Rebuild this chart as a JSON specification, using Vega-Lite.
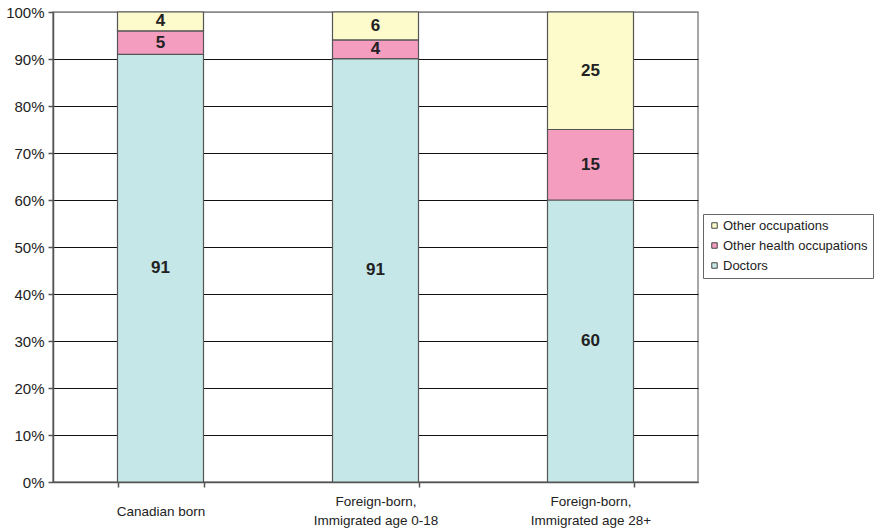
{
  "$schema": "https://vega.github.io/schema/vega-lite/v6.json",
  "width": 645,
  "height": 470,
  "autosize": {"type": "none"},
  "padding": {"left": 53, "top": 12, "right": 176, "bottom": 50},
  "config": {
    "font": "Liberation Sans",
    "view": {"stroke": "#8a8a8a", "strokeWidth": 1.5}
  },
  "data": {
    "values": [
      {"group": "Canadian born", "occupation": "Doctors", "order": 1, "value": 91},
      {"group": "Canadian born", "occupation": "Other health occupations", "order": 2, "value": 5},
      {"group": "Canadian born", "occupation": "Other occupations", "order": 3, "value": 4},
      {"group": "Foreign-born, Immigrated age 0-18", "occupation": "Doctors", "order": 1, "value": 91},
      {"group": "Foreign-born, Immigrated age 0-18", "occupation": "Other health occupations", "order": 2, "value": 4},
      {"group": "Foreign-born, Immigrated age 0-18", "occupation": "Other occupations", "order": 3, "value": 6},
      {"group": "Foreign-born, Immigrated age 28+", "occupation": "Doctors", "order": 1, "value": 60},
      {"group": "Foreign-born, Immigrated age 28+", "occupation": "Other health occupations", "order": 2, "value": 15},
      {"group": "Foreign-born, Immigrated age 28+", "occupation": "Other occupations", "order": 3, "value": 25}
    ]
  },
  "encoding": {
    "x": {
      "field": "group",
      "type": "nominal",
      "sort": null,
      "scale": {"paddingInner": 0.6, "paddingOuter": 0.3},
      "axis": {
        "title": null,
        "labelAngle": 0,
        "labelFontSize": 13.5,
        "labelColor": "#222",
        "labelBaseline": "middle",
        "labelPadding": {"condition": {"test": "indexof(datum.label, ', ') > 0", "value": 14}, "value": 24},
        "labelLineHeight": 19,
        "labelExpr": "indexof(datum.label, ', ') > 0 ? [slice(datum.label, 0, indexof(datum.label, ', ') + 1), slice(datum.label, indexof(datum.label, ', ') + 2)] : datum.label",
        "domainColor": "#555",
        "domainWidth": 1.5,
        "tickBand": "extent",
        "tickColor": "#555",
        "tickSize": 5,
        "tickWidth": 1.5
      }
    },
    "y": {
      "field": "value",
      "type": "quantitative",
      "stack": "normalize",
      "scale": {"domain": [0, 1], "nice": false},
      "axis": {
        "title": null,
        "format": ".0%",
        "values": [0, 0.1, 0.2, 0.3, 0.4, 0.5, 0.6, 0.7, 0.8, 0.9, 1],
        "labelFontSize": 15,
        "labelColor": "#222",
        "labelPadding": 4,
        "domainColor": "#555",
        "domainWidth": 1.5,
        "tickColor": "#555",
        "tickSize": 5,
        "tickWidth": 1.5,
        "grid": true,
        "gridColor": {"condition": {"test": "datum.value >= 1", "value": "#8a8a8a"}, "value": "#111"},
        "gridWidth": 1.2
      }
    },
    "order": {"field": "order", "type": "quantitative"}
  },
  "layer": [
    {
      "mark": {"type": "bar", "stroke": "#555", "strokeWidth": 1.2},
      "encoding": {
        "color": {
          "field": "occupation",
          "type": "nominal",
          "scale": {
            "domain": ["Other occupations", "Other health occupations", "Doctors"],
            "range": ["#fdfbcc", "#f49dbf", "#c5e7e7"]
          },
          "legend": {
            "title": null,
            "orient": "none",
            "legendX": 650,
            "legendY": 202,
            "symbolType": "square",
            "symbolSize": 30,
            "symbolStrokeColor": "#444",
            "symbolStrokeWidth": 1,
            "labelFontSize": 13,
            "labelColor": "#222",
            "labelOffset": 2,
            "rowPadding": 6,
            "strokeColor": "#666",
            "padding": 5
          }
        }
      }
    },
    {
      "mark": {"type": "text", "fontSize": 17, "fontWeight": "bold", "color": "#222", "baseline": "middle"},
      "encoding": {
        "y": {"field": "value", "type": "quantitative", "stack": "normalize", "bandPosition": 0.5},
        "text": {"field": "value", "type": "quantitative"}
      }
    }
  ]
}
